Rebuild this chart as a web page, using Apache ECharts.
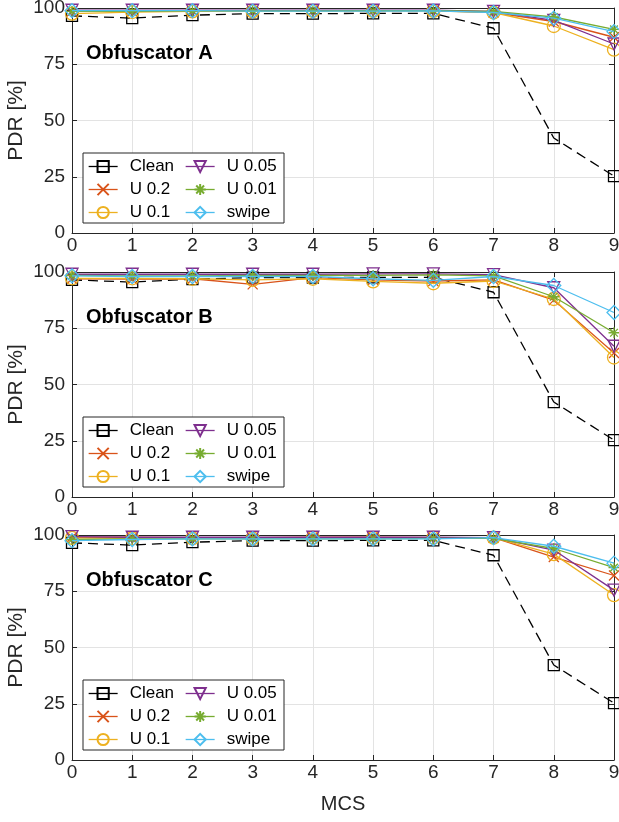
<!DOCTYPE html>
<html>
<head>
<meta charset="utf-8">
<script src="https://cdn.jsdelivr.net/npm/echarts@6/dist/echarts.min.js"></script>
<style>
  html, body { margin: 0; padding: 0; background: #fff; }
  #chart { width: 619px; height: 822px; }
</style>
</head>
<body>
<div id="chart"></div>
<script>
// x values (MCS index)
const mcs = [0, 1, 2, 3, 4, 5, 6, 7, 8, 9]
const yTicks = [0, 25, 50, 75, 100]
const names = ['Clean', 'U 0.2', 'U 0.1', 'U 0.05', 'U 0.01', 'swipe']
const panelTitles = ['Obfuscator A', 'Obfuscator B', 'Obfuscator C']

// reference curve without obfuscation (same in every panel)
const clean = [96.5, 95.5, 96.8, 97.5, 97.5, 97.6, 97.6, 91, 42.2, 25.3]

// Obfuscator A
const u02A = [98.5, 98.5, 98.8, 98.7, 98.8, 98.8, 98.8, 98, 94, 87]
const u01A = [97.5, 98.2, 98.5, 98.5, 98.7, 98.7, 98.7, 98, 92, 81.5]
const u005A = [99, 99, 99, 99, 99, 99, 99, 98.5, 94.5, 84]
const u001A = [98.5, 98.5, 98.7, 98.7, 98.7, 98.8, 98.8, 98.5, 96, 90.5]
const swipeA = [98.8, 98.8, 98.8, 98.6, 98.6, 98.6, 98.7, 98, 95.5, 89.5]

// Obfuscator B
const u02B = [97, 96.8, 97, 94.5, 97.5, 96.5, 96, 96.5, 87.5, 64]
const u01B = [97.2, 97.2, 97, 96.5, 97, 95.8, 95, 96, 88, 62]
const u005B = [99, 99, 99, 99, 99, 99.2, 99.2, 98.8, 93, 67]
const u001B = [98.5, 98.3, 98.3, 98.5, 98.5, 98.5, 98.7, 98.3, 89, 73]
const swipeB = [98.3, 98, 98, 98, 98, 97, 96.3, 98, 94, 82]

// Obfuscator C
const u02C = [99, 99, 98.8, 98.8, 99, 99, 98.8, 98.8, 90.2, 82]
const u01C = [98.7, 98.5, 98.5, 98.5, 98.8, 98.7, 98.8, 98.8, 91.5, 73.3]
const u005C = [99.3, 99, 99, 99, 99, 99, 99, 98.8, 93.3, 75.5]
const u001C = [98, 98.3, 98.3, 98.3, 98.3, 98.3, 98.5, 98.5, 94, 85.5]
const swipeC = [97.5, 98, 98.3, 98.3, 98.3, 98.3, 98.3, 98.8, 95, 87.5]

const panels = [
  [clean, u02A, u01A, u005A, u001A, swipeA],
  [clean, u02B, u01B, u005B, u001B, swipeB],
  [clean, u02C, u01C, u005C, u001C, swipeC],
]

const colors = ['#000000', '#D95319', '#EDB120', '#7E2F8E', '#77AC30', '#4DBEEE']
const symbols = [
  'rect',
  'path://M0,0L10,10M10,0L0,10',
  'circle',
  'triangle',
  'path://M5,0L5,10M0,5L10,5M1.5,1.5L8.5,8.5M8.5,1.5L1.5,8.5',
  'diamond',
]
const symbolSizes = [11, 10, 13, 12, 11, 14]

const font = 'Liberation Sans, Arial, Helvetica, sans-serif'
const axisColor = '#262626'
const gridTops = [8, 272, 535]
const plotH = 225

const grid = []
const xAxis = []
const yAxis = []
const series = []
const legend = []
const title = []
const graphic = []

gridTops.forEach((top, p) => {
  grid.push({ left: 72, right: 5, top: top, height: plotH, outerBoundsMode: 'none', containLabel: false })
  // bottom + top x axes
  xAxis.push({
    type: 'value', gridIndex: p, min: 0, max: 9, interval: 1,
    axisLine: { show: true, lineStyle: { color: axisColor, width: 1 } },
    axisTick: { inside: true, length: 5, lineStyle: { color: axisColor } },
    axisLabel: { color: axisColor, fontSize: 19, fontFamily: font, margin: 3 },
    splitLine: { show: true, lineStyle: { color: '#e3e3e3', width: 1 } },
    name: p === 2 ? 'MCS' : '',
    nameLocation: 'middle', nameGap: 34, nameMoveOverlap: false,
    nameTextStyle: { color: axisColor, fontSize: 20, fontFamily: font },
  })
  xAxis.push({
    type: 'value', gridIndex: p, min: 0, max: 9, interval: 1, position: 'top',
    axisLine: { show: true, onZero: false, lineStyle: { color: axisColor, width: 1 } },
    axisTick: { inside: true, length: 5, lineStyle: { color: axisColor } },
    axisLabel: { show: false }, splitLine: { show: false },
  })
  yAxis.push({
    type: 'value', gridIndex: p, min: 0, max: 100, interval: 25,
    axisLine: { show: true, lineStyle: { color: axisColor, width: 1 } },
    axisTick: { show: true, inside: true, length: 5, lineStyle: { color: axisColor } },
    axisLabel: {
      color: axisColor, fontSize: 19, fontFamily: font, margin: 7,
      formatter: (v) => (yTicks.includes(v) ? String(v) : ''),
    },
    splitLine: { show: true, lineStyle: { color: '#e3e3e3', width: 1 } },
    name: 'PDR [%]', nameLocation: 'middle', nameGap: 45, nameRotate: 90, nameMoveOverlap: false,
    nameTextStyle: { color: axisColor, fontSize: 21, fontFamily: font },
  })
  yAxis.push({
    type: 'value', gridIndex: p, min: 0, max: 100, interval: 25, position: 'right',
    axisLine: { show: true, onZero: false, lineStyle: { color: axisColor, width: 1 } },
    axisTick: { show: true, inside: true, length: 5, lineStyle: { color: axisColor } },
    axisLabel: { show: false }, splitLine: { show: false },
  })

  panels[p].forEach((vals, i) => {
    series.push({
      name: names[i],
      type: 'line',
      xAxisIndex: p * 2,
      yAxisIndex: p * 2,
      data: mcs.map((x, k) => [x, vals[k]]),
      symbol: symbols[i],
      symbolSize: symbolSizes[i],
      symbolRotate: i === 3 ? 180 : 0,
      showAllSymbol: true,
      clip: false,
      lineStyle: { color: colors[i], width: 1.3, type: i === 0 ? [10, 6] : 'solid' },
      itemStyle: { color: 'rgba(255,255,255,0)', borderColor: colors[i], borderWidth: 1.3 },
      emphasis: { disabled: true },
      z: 2 + i,
    })
  })

  title.push({
    text: panelTitles[p], left: 81, top: top + 30,
    textStyle: { fontFamily: font, fontSize: 20, fontWeight: 'bold', color: '#000' },
  })

  const boxTop = top + 145
  graphic.push({
    type: 'rect', z: 20,
    shape: { x: 83, y: boxTop, width: 201, height: 70 },
    style: { fill: '#fff', stroke: axisColor, lineWidth: 1 },
  })
  const legendBase = {
    orient: 'vertical', top: boxTop + 5, itemWidth: 29, itemHeight: 14, itemGap: 6,
    padding: 0, z: 30, selectedMode: false,
    textStyle: { fontFamily: font, fontSize: 17, color: '#000', padding: [0, 0, 0, 7] },
    lineStyle: { type: 'solid', width: 1.3 },
  }
  legend.push(Object.assign({}, legendBase, { left: 88, data: names.slice(0, 3) }))
  legend.push(Object.assign({}, legendBase, { left: 185, data: names.slice(3) }))
})

const chart = echarts.init(document.getElementById('chart'))
chart.setOption({
  animation: false,
  backgroundColor: '#fff',
  title, grid, xAxis, yAxis, series, legend, graphic,
})
</script>
</body>
</html>
